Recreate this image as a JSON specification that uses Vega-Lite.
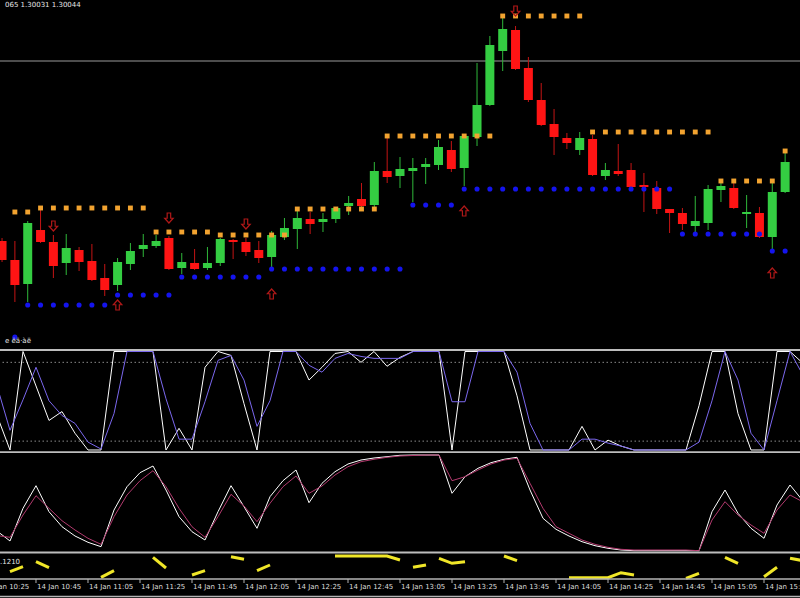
{
  "$schema": "https://vega.github.io/schema/vega-lite/v6.json",
  "background": "#000000",
  "padding": 0,
  "spacing": 0,
  "bounds": "flush",
  "config": {"view": {"stroke": null}},
  "datasets": {
    "bars": [
      {"t":"2013-01-14T10:30","o":1.29959,"h":1.29962,"l":1.29938,"c":1.29940,"K":35,"D":65,"W":22,"P":17.4},
      {"t":"2013-01-14T10:35","o":1.29940,"h":1.29959,"l":1.29898,"c":1.29915,"K":0,"D":20,"W":12,"P":15.7},
      {"t":"2013-01-14T10:40","o":1.29916,"h":1.29979,"l":1.29898,"c":1.29977,"K":100,"D":51,"W":44.7,"P":38},
      {"t":"2013-01-14T10:45","o":1.29970,"h":1.29993,"l":1.29957,"c":1.29958,"K":65,"D":84,"W":67.3,"P":57.3},
      {"t":"2013-01-14T10:50","o":1.29958,"h":1.29965,"l":1.29922,"c":1.29934,"K":30,"D":50,"W":41.3,"P":44.7},
      {"t":"2013-01-14T10:55","o":1.29937,"h":1.29966,"l":1.29925,"c":1.29952,"K":39,"D":35,"W":26.3,"P":32.3},
      {"t":"2013-01-14T11:00","o":1.29950,"h":1.29953,"l":1.29929,"c":1.29938,"K":17,"D":27,"W":17,"P":23},
      {"t":"2013-01-14T11:05","o":1.29939,"h":1.29956,"l":1.29919,"c":1.29920,"K":0,"D":8,"W":10.7,"P":14.7},
      {"t":"2013-01-14T11:10","o":1.29922,"h":1.29936,"l":1.29904,"c":1.29910,"K":0,"D":1,"W":6.3,"P":8.7},
      {"t":"2013-01-14T11:15","o":1.29915,"h":1.29942,"l":1.29909,"c":1.29938,"K":100,"D":37,"W":43,"P":36.3},
      {"t":"2013-01-14T11:20","o":1.29936,"h":1.29957,"l":1.29930,"c":1.29949,"K":100,"D":100,"W":66.3,"P":58},
      {"t":"2013-01-14T11:25","o":1.29951,"h":1.29966,"l":1.29943,"c":1.29955,"K":100,"D":100,"W":80.3,"P":72.3},
      {"t":"2013-01-14T11:30","o":1.29954,"h":1.29965,"l":1.29952,"c":1.29959,"K":100,"D":100,"W":87,"P":82.3},
      {"t":"2013-01-14T11:35","o":1.29962,"h":1.29964,"l":1.29930,"c":1.29931,"K":0,"D":52,"W":63,"P":66.3},
      {"t":"2013-01-14T11:40","o":1.29932,"h":1.29947,"l":1.29926,"c":1.29938,"K":22,"D":11,"W":36.3,"P":44.7},
      {"t":"2013-01-14T11:45","o":1.29937,"h":1.29951,"l":1.29930,"c":1.29931,"K":0,"D":11,"W":21.3,"P":26.3},
      {"t":"2013-01-14T11:50","o":1.29932,"h":1.29953,"l":1.29930,"c":1.29937,"K":84,"D":49,"W":13,"P":15.7},
      {"t":"2013-01-14T11:55","o":1.29937,"h":1.29962,"l":1.29934,"c":1.29961,"K":100,"D":91,"W":41.3,"P":36.3},
      {"t":"2013-01-14T12:00","o":1.29960,"h":1.29961,"l":1.29941,"c":1.29958,"K":96,"D":96,"W":67.3,"P":58.7},
      {"t":"2013-01-14T12:05","o":1.29958,"h":1.29962,"l":1.29944,"c":1.29948,"K":47,"D":71,"W":46.3,"P":47},
      {"t":"2013-01-14T12:10","o":1.29950,"h":1.29959,"l":1.29937,"c":1.29942,"K":0,"D":24,"W":24.7,"P":31.3},
      {"t":"2013-01-14T12:15","o":1.29943,"h":1.29969,"l":1.29933,"c":1.29965,"K":100,"D":50,"W":56.3,"P":49.7},
      {"t":"2013-01-14T12:20","o":1.29963,"h":1.29982,"l":1.29960,"c":1.29972,"K":100,"D":100,"W":72.3,"P":66.3},
      {"t":"2013-01-14T12:25","o":1.29971,"h":1.29992,"l":1.29951,"c":1.29982,"K":100,"D":100,"W":83,"P":77},
      {"t":"2013-01-14T12:30","o":1.29981,"h":1.29988,"l":1.29966,"c":1.29976,"K":71,"D":86,"W":50.3,"P":59.7},
      {"t":"2013-01-14T12:35","o":1.29978,"h":1.29987,"l":1.29968,"c":1.29981,"K":84,"D":79,"W":69.7,"P":67},
      {"t":"2013-01-14T12:40","o":1.29981,"h":1.29993,"l":1.29977,"c":1.29992,"K":98,"D":93,"W":81.3,"P":78},
      {"t":"2013-01-14T12:45","o":1.29994,"h":1.30004,"l":1.29985,"c":1.29997,"K":100,"D":98,"W":89,"P":86.3},
      {"t":"2013-01-14T12:50","o":1.30001,"h":1.30017,"l":1.29993,"c":1.29994,"K":89,"D":95,"W":93,"P":91.3},
      {"t":"2013-01-14T12:55","o":1.29995,"h":1.30038,"l":1.29993,"c":1.30029,"K":100,"D":93,"W":95,"P":93.7},
      {"t":"2013-01-14T13:00","o":1.30029,"h":1.30064,"l":1.30017,"c":1.30023,"K":85,"D":93,"W":96.3,"P":95.7},
      {"t":"2013-01-14T13:05","o":1.30024,"h":1.30043,"l":1.30012,"c":1.30031,"K":94,"D":93,"W":97.7,"P":97},
      {"t":"2013-01-14T13:10","o":1.30029,"h":1.30042,"l":1.29998,"c":1.30032,"K":100,"D":100,"W":98,"P":97.5},
      {"t":"2013-01-14T13:15","o":1.30033,"h":1.30042,"l":1.30016,"c":1.30036,"K":100,"D":100,"W":98,"P":98},
      {"t":"2013-01-14T13:20","o":1.30035,"h":1.30060,"l":1.30030,"c":1.30053,"K":100,"D":100,"W":98,"P":98},
      {"t":"2013-01-14T13:25","o":1.30050,"h":1.30059,"l":1.30028,"c":1.30031,"K":0,"D":49,"W":59.7,"P":72.3},
      {"t":"2013-01-14T13:30","o":1.30032,"h":1.30065,"l":1.30014,"c":1.30064,"K":100,"D":49,"W":76.3,"P":76.3},
      {"t":"2013-01-14T13:35","o":1.30063,"h":1.30137,"l":1.30054,"c":1.30095,"K":100,"D":100,"W":84.7,"P":83},
      {"t":"2013-01-14T13:40","o":1.30095,"h":1.30164,"l":1.30094,"c":1.30155,"K":100,"D":100,"W":90.3,"P":89},
      {"t":"2013-01-14T13:45","o":1.30149,"h":1.30183,"l":1.30129,"c":1.30171,"K":100,"D":100,"W":93.7,"P":93},
      {"t":"2013-01-14T13:50","o":1.30170,"h":1.30174,"l":1.30130,"c":1.30131,"K":55,"D":79,"W":95.7,"P":94.7},
      {"t":"2013-01-14T13:55","o":1.30132,"h":1.30143,"l":1.30098,"c":1.30100,"K":0,"D":27,"W":63,"P":69.7},
      {"t":"2013-01-14T14:00","o":1.30100,"h":1.30117,"l":1.30074,"c":1.30075,"K":0,"D":0,"W":34.7,"P":44.7},
      {"t":"2013-01-14T14:05","o":1.30076,"h":1.30091,"l":1.30045,"c":1.30063,"K":0,"D":0,"W":23.7,"P":26.3},
      {"t":"2013-01-14T14:10","o":1.30062,"h":1.30067,"l":1.30051,"c":1.30057,"K":0,"D":0,"W":17,"P":19.7},
      {"t":"2013-01-14T14:15","o":1.30050,"h":1.30068,"l":1.30045,"c":1.30062,"K":24,"D":11,"W":11.3,"P":13},
      {"t":"2013-01-14T14:20","o":1.30061,"h":1.30065,"l":1.30024,"c":1.30025,"K":0,"D":11,"W":7.3,"P":8.7},
      {"t":"2013-01-14T14:25","o":1.30024,"h":1.30037,"l":1.30020,"c":1.30030,"K":10,"D":7,"W":4.7,"P":5.7},
      {"t":"2013-01-14T14:30","o":1.30029,"h":1.30056,"l":1.30024,"c":1.30026,"K":4,"D":4,"W":3,"P":3.7},
      {"t":"2013-01-14T14:35","o":1.30030,"h":1.30037,"l":1.30012,"c":1.30013,"K":0,"D":0,"W":2.3,"P":3},
      {"t":"2013-01-14T14:40","o":1.30015,"h":1.30027,"l":1.29988,"c":1.30013,"K":0,"D":0,"W":2.3,"P":3},
      {"t":"2013-01-14T14:45","o":1.30012,"h":1.30019,"l":1.29986,"c":1.29991,"K":0,"D":0,"W":2.3,"P":3},
      {"t":"2013-01-14T14:50","o":1.29991,"h":1.29991,"l":1.29967,"c":1.29987,"K":0,"D":0,"W":2.3,"P":3},
      {"t":"2013-01-14T14:55","o":1.29987,"h":1.29992,"l":1.29970,"c":1.29976,"K":0,"D":0,"W":2.3,"P":3},
      {"t":"2013-01-14T15:00","o":1.29974,"h":1.30004,"l":1.29967,"c":1.29979,"K":45,"D":8,"W":2.3,"P":2.3},
      {"t":"2013-01-14T15:05","o":1.29977,"h":1.30015,"l":1.29970,"c":1.30011,"K":100,"D":50,"W":41.3,"P":33},
      {"t":"2013-01-14T15:10","o":1.30010,"h":1.30020,"l":1.29998,"c":1.30014,"K":100,"D":100,"W":63,"P":51.3},
      {"t":"2013-01-14T15:15","o":1.30012,"h":1.30018,"l":1.29991,"c":1.29992,"K":37,"D":71,"W":39.7,"P":38},
      {"t":"2013-01-14T15:20","o":1.29986,"h":1.30005,"l":1.29972,"c":1.29988,"K":0,"D":17,"W":24.7,"P":28},
      {"t":"2013-01-14T15:25","o":1.29987,"h":1.29993,"l":1.29962,"c":1.29963,"K":0,"D":0,"W":14.7,"P":19.7},
      {"t":"2013-01-14T15:30","o":1.29963,"h":1.30017,"l":1.29950,"c":1.30008,"K":100,"D":50,"W":48,"P":43},
      {"t":"2013-01-14T15:35","o":1.30008,"h":1.30048,"l":1.30007,"c":1.30038,"K":100,"D":100,"W":68,"P":58},
      {"t":"2013-01-14T15:40","K":88,"D":76,"W":52,"P":51}
    ],
    "orange": [
      {"t":"2013-01-14T10:35","p":1.29988},{"t":"2013-01-14T10:40","p":1.29988},
      {"t":"2013-01-14T10:45","p":1.29992},{"t":"2013-01-14T10:50","p":1.29992},{"t":"2013-01-14T10:55","p":1.29992},{"t":"2013-01-14T11:00","p":1.29992},{"t":"2013-01-14T11:05","p":1.29992},{"t":"2013-01-14T11:10","p":1.29992},{"t":"2013-01-14T11:15","p":1.29992},{"t":"2013-01-14T11:20","p":1.29992},{"t":"2013-01-14T11:25","p":1.29992},
      {"t":"2013-01-14T11:30","p":1.29968},{"t":"2013-01-14T11:35","p":1.29968},{"t":"2013-01-14T11:40","p":1.29968},{"t":"2013-01-14T11:45","p":1.29968},{"t":"2013-01-14T11:50","p":1.29968},
      {"t":"2013-01-14T11:55","p":1.29965},{"t":"2013-01-14T12:00","p":1.29965},{"t":"2013-01-14T12:05","p":1.29965},{"t":"2013-01-14T12:10","p":1.29965},{"t":"2013-01-14T12:15","p":1.29965},{"t":"2013-01-14T12:20","p":1.29965},
      {"t":"2013-01-14T12:25","p":1.29991},{"t":"2013-01-14T12:30","p":1.29991},{"t":"2013-01-14T12:35","p":1.29991},{"t":"2013-01-14T12:40","p":1.29991},{"t":"2013-01-14T12:45","p":1.29991},{"t":"2013-01-14T12:50","p":1.29991},{"t":"2013-01-14T12:55","p":1.29991},
      {"t":"2013-01-14T13:00","p":1.30064},{"t":"2013-01-14T13:05","p":1.30064},{"t":"2013-01-14T13:10","p":1.30064},{"t":"2013-01-14T13:15","p":1.30064},{"t":"2013-01-14T13:20","p":1.30064},{"t":"2013-01-14T13:25","p":1.30064},{"t":"2013-01-14T13:30","p":1.30064},{"t":"2013-01-14T13:35","p":1.30064},{"t":"2013-01-14T13:40","p":1.30064},
      {"t":"2013-01-14T13:45","p":1.30184},{"t":"2013-01-14T13:50","p":1.30184},{"t":"2013-01-14T13:55","p":1.30184},{"t":"2013-01-14T14:00","p":1.30184},{"t":"2013-01-14T14:05","p":1.30184},{"t":"2013-01-14T14:10","p":1.30184},{"t":"2013-01-14T14:15","p":1.30184},
      {"t":"2013-01-14T14:20","p":1.30068},{"t":"2013-01-14T14:25","p":1.30068},{"t":"2013-01-14T14:30","p":1.30068},{"t":"2013-01-14T14:35","p":1.30068},{"t":"2013-01-14T14:40","p":1.30068},{"t":"2013-01-14T14:45","p":1.30068},{"t":"2013-01-14T14:50","p":1.30068},{"t":"2013-01-14T14:55","p":1.30068},{"t":"2013-01-14T15:00","p":1.30068},{"t":"2013-01-14T15:05","p":1.30068},
      {"t":"2013-01-14T15:10","p":1.30019},{"t":"2013-01-14T15:15","p":1.30019},{"t":"2013-01-14T15:20","p":1.30019},{"t":"2013-01-14T15:25","p":1.30019},{"t":"2013-01-14T15:30","p":1.30019},
      {"t":"2013-01-14T15:35","p":1.30049}
    ],
    "blue": [
      {"t":"2013-01-14T10:35","p":1.29863},
      {"t":"2013-01-14T10:40","p":1.29895},{"t":"2013-01-14T10:45","p":1.29895},{"t":"2013-01-14T10:50","p":1.29895},{"t":"2013-01-14T10:55","p":1.29895},{"t":"2013-01-14T11:00","p":1.29895},{"t":"2013-01-14T11:05","p":1.29895},{"t":"2013-01-14T11:10","p":1.29895},
      {"t":"2013-01-14T11:15","p":1.29905},{"t":"2013-01-14T11:20","p":1.29905},{"t":"2013-01-14T11:25","p":1.29905},{"t":"2013-01-14T11:30","p":1.29905},{"t":"2013-01-14T11:35","p":1.29905},
      {"t":"2013-01-14T11:40","p":1.29923},{"t":"2013-01-14T11:45","p":1.29923},{"t":"2013-01-14T11:50","p":1.29923},{"t":"2013-01-14T11:55","p":1.29923},{"t":"2013-01-14T12:00","p":1.29923},{"t":"2013-01-14T12:05","p":1.29923},{"t":"2013-01-14T12:10","p":1.29923},
      {"t":"2013-01-14T12:15","p":1.29931},{"t":"2013-01-14T12:20","p":1.29931},{"t":"2013-01-14T12:25","p":1.29931},{"t":"2013-01-14T12:30","p":1.29931},{"t":"2013-01-14T12:35","p":1.29931},{"t":"2013-01-14T12:40","p":1.29931},{"t":"2013-01-14T12:45","p":1.29931},{"t":"2013-01-14T12:50","p":1.29931},{"t":"2013-01-14T12:55","p":1.29931},{"t":"2013-01-14T13:00","p":1.29931},{"t":"2013-01-14T13:05","p":1.29931},
      {"t":"2013-01-14T13:10","p":1.29995},{"t":"2013-01-14T13:15","p":1.29995},{"t":"2013-01-14T13:20","p":1.29995},{"t":"2013-01-14T13:25","p":1.29995},
      {"t":"2013-01-14T13:30","p":1.30011},{"t":"2013-01-14T13:35","p":1.30011},{"t":"2013-01-14T13:40","p":1.30011},{"t":"2013-01-14T13:45","p":1.30011},{"t":"2013-01-14T13:50","p":1.30011},{"t":"2013-01-14T13:55","p":1.30011},{"t":"2013-01-14T14:00","p":1.30011},{"t":"2013-01-14T14:05","p":1.30011},{"t":"2013-01-14T14:10","p":1.30011},{"t":"2013-01-14T14:15","p":1.30011},{"t":"2013-01-14T14:20","p":1.30011},{"t":"2013-01-14T14:25","p":1.30011},{"t":"2013-01-14T14:30","p":1.30011},{"t":"2013-01-14T14:35","p":1.30011},{"t":"2013-01-14T14:40","p":1.30011},{"t":"2013-01-14T14:45","p":1.30011},{"t":"2013-01-14T14:50","p":1.30011},
      {"t":"2013-01-14T14:55","p":1.29966},{"t":"2013-01-14T15:00","p":1.29966},{"t":"2013-01-14T15:05","p":1.29966},{"t":"2013-01-14T15:10","p":1.29966},{"t":"2013-01-14T15:15","p":1.29966},{"t":"2013-01-14T15:20","p":1.29966},{"t":"2013-01-14T15:25","p":1.29966},
      {"t":"2013-01-14T15:30","p":1.29949},{"t":"2013-01-14T15:35","p":1.29949}
    ],
    "arrows": [
      {"t":"2013-01-14T10:50","p":1.29974,"dir":"down"},
      {"t":"2013-01-14T11:35","p":1.29982,"dir":"down"},
      {"t":"2013-01-14T12:05","p":1.29976,"dir":"down"},
      {"t":"2013-01-14T13:50","p":1.30189,"dir":"down"},
      {"t":"2013-01-14T11:15","p":1.29895,"dir":"up"},
      {"t":"2013-01-14T12:15","p":1.29906,"dir":"up"},
      {"t":"2013-01-14T13:30","p":1.29989,"dir":"up"},
      {"t":"2013-01-14T15:30","p":1.29927,"dir":"up"}
    ],
    "yellow": [
      {"t":"2013-01-14T10:35","seg":1,"v":26.3},{"t":"2013-01-14T10:40","seg":1,"v":31.3},
      {"t":"2013-01-14T10:45","seg":2,"v":36.3},{"t":"2013-01-14T10:50","seg":2,"v":30.3},
      {"t":"2013-01-14T11:10","seg":3,"v":20.7},{"t":"2013-01-14T11:15","seg":3,"v":27.3},
      {"t":"2013-01-14T11:30","seg":4,"v":40.7},{"t":"2013-01-14T11:35","seg":4,"v":30},
      {"t":"2013-01-14T11:45","seg":5,"v":23},{"t":"2013-01-14T11:50","seg":5,"v":27.3},
      {"t":"2013-01-14T12:00","seg":6,"v":41.3},{"t":"2013-01-14T12:05","seg":6,"v":38.7},
      {"t":"2013-01-14T12:10","seg":7,"v":27.3},{"t":"2013-01-14T12:15","seg":7,"v":33},
      {"t":"2013-01-14T12:40","seg":8,"v":42},{"t":"2013-01-14T12:45","seg":8,"v":42},{"t":"2013-01-14T12:50","seg":8,"v":42},{"t":"2013-01-14T12:55","seg":8,"v":42},{"t":"2013-01-14T13:00","seg":8,"v":42},{"t":"2013-01-14T13:05","seg":8,"v":38},
      {"t":"2013-01-14T13:10","seg":9,"v":30.7},{"t":"2013-01-14T13:15","seg":9,"v":33},
      {"t":"2013-01-14T13:20","seg":10,"v":39.7},{"t":"2013-01-14T13:25","seg":10,"v":34.7},{"t":"2013-01-14T13:30","seg":10,"v":36.3},
      {"t":"2013-01-14T13:45","seg":11,"v":42},{"t":"2013-01-14T13:50","seg":11,"v":37.3},
      {"t":"2013-01-14T14:10","seg":12,"v":20.3},{"t":"2013-01-14T14:15","seg":12,"v":20.3},{"t":"2013-01-14T14:20","seg":12,"v":20.3},{"t":"2013-01-14T14:25","seg":12,"v":20.3},{"t":"2013-01-14T14:30","seg":12,"v":25.3},{"t":"2013-01-14T14:35","seg":12,"v":23},
      {"t":"2013-01-14T14:55","seg":13,"v":19.7},{"t":"2013-01-14T15:00","seg":13,"v":24.7},
      {"t":"2013-01-14T15:10","seg":14,"v":40.7},{"t":"2013-01-14T15:15","seg":14,"v":34.7},
      {"t":"2013-01-14T15:25","seg":15,"v":21.3},{"t":"2013-01-14T15:30","seg":15,"v":30.7},
      {"t":"2013-01-14T15:35","seg":16,"v":39.7},{"t":"2013-01-14T15:40","seg":16,"v":37.3}
    ],
    "ticks": [
      {"t":"2013-01-14T10:25"},{"t":"2013-01-14T10:45"},{"t":"2013-01-14T11:05"},{"t":"2013-01-14T11:25"},
      {"t":"2013-01-14T11:45"},{"t":"2013-01-14T12:05"},{"t":"2013-01-14T12:25"},{"t":"2013-01-14T12:45"},
      {"t":"2013-01-14T13:05"},{"t":"2013-01-14T13:25"},{"t":"2013-01-14T13:45"},{"t":"2013-01-14T14:05"},
      {"t":"2013-01-14T14:25"},{"t":"2013-01-14T14:45"},{"t":"2013-01-14T15:05"},{"t":"2013-01-14T15:25"}
    ]
  },
  "vconcat": [
    {
      "width": 800,
      "height": 351,
      "layer": [
        {
          "data": {"values": [{"lvl": 1.30139}]},
          "mark": {"type": "rule", "color": "#9a9a9a", "strokeWidth": 1, "clip": true},
          "encoding": {
            "y": {"field": "lvl", "type": "quantitative", "scale": {"domain": [1.29849, 1.302], "nice": false, "zero": false}, "axis": null}
          }
        },
        {
          "data": {"name": "bars"},
          "transform": [{"filter": "isValid(datum.o)"}],
          "mark": {"type": "rule", "strokeWidth": 1, "clip": true},
          "encoding": {
            "x": {"field": "t", "type": "temporal", "scale": {"domain": [{"year":2013,"month":1,"date":14,"hours":10,"minutes":31,"seconds":9,"milliseconds":231},{"year":2013,"month":1,"date":14,"hours":15,"minutes":38,"seconds":50,"milliseconds":769}]}, "axis": null},
            "y": {"field": "l", "type": "quantitative", "scale": {"domain": [1.29849, 1.302], "nice": false, "zero": false}, "axis": null},
            "y2": {"field": "h"},
            "color": {"condition": {"test": "datum.c >= datum.o", "value": "#2fb83a"}, "value": "#c41414"}
          }
        },
        {
          "data": {"name": "bars"},
          "transform": [{"filter": "isValid(datum.o)"}],
          "mark": {"type": "bar", "width": 9, "clip": true},
          "encoding": {
            "x": {"field": "t", "type": "temporal", "scale": {"domain": [{"year":2013,"month":1,"date":14,"hours":10,"minutes":31,"seconds":9,"milliseconds":231},{"year":2013,"month":1,"date":14,"hours":15,"minutes":38,"seconds":50,"milliseconds":769}]}, "axis": null},
            "y": {"field": "o", "type": "quantitative", "scale": {"domain": [1.29849, 1.302], "nice": false, "zero": false}, "axis": null},
            "y2": {"field": "c"},
            "color": {"condition": {"test": "datum.c >= datum.o", "value": "#34cd42"}, "value": "#ff1414"}
          }
        },
        {
          "data": {"name": "orange"},
          "mark": {"type": "point", "shape": "square", "filled": true, "size": 24, "color": "#f2a330", "opacity": 1, "clip": true},
          "encoding": {
            "x": {"field": "t", "type": "temporal", "scale": {"domain": [{"year":2013,"month":1,"date":14,"hours":10,"minutes":31,"seconds":9,"milliseconds":231},{"year":2013,"month":1,"date":14,"hours":15,"minutes":38,"seconds":50,"milliseconds":769}]}, "axis": null},
            "y": {"field": "p", "type": "quantitative", "scale": {"domain": [1.29849, 1.302], "nice": false, "zero": false}, "axis": null}
          }
        },
        {
          "data": {"name": "blue"},
          "mark": {"type": "point", "shape": "circle", "filled": true, "size": 26, "color": "#1414ee", "opacity": 1, "clip": true},
          "encoding": {
            "x": {"field": "t", "type": "temporal", "scale": {"domain": [{"year":2013,"month":1,"date":14,"hours":10,"minutes":31,"seconds":9,"milliseconds":231},{"year":2013,"month":1,"date":14,"hours":15,"minutes":38,"seconds":50,"milliseconds":769}]}, "axis": null},
            "y": {"field": "p", "type": "quantitative", "scale": {"domain": [1.29849, 1.302], "nice": false, "zero": false}, "axis": null}
          }
        },
        {
          "data": {"name": "arrows"},
          "mark": {"type": "point", "filled": false, "size": 100, "strokeWidth": 1.2, "color": "#b01818", "opacity": 1, "clip": true},
          "encoding": {
            "x": {"field": "t", "type": "temporal", "scale": {"domain": [{"year":2013,"month":1,"date":14,"hours":10,"minutes":31,"seconds":9,"milliseconds":231},{"year":2013,"month":1,"date":14,"hours":15,"minutes":38,"seconds":50,"milliseconds":769}]}, "axis": null},
            "y": {"field": "p", "type": "quantitative", "scale": {"domain": [1.29849, 1.302], "nice": false, "zero": false}, "axis": null},
            "shape": {"field": "dir", "type": "nominal", "scale": {"domain": ["down", "up"], "range": ["M-0.35,-1L0.35,-1L0.35,0.05L0.85,0.05L0,1L-0.85,0.05L-0.35,0.05Z", "M-0.35,1L0.35,1L0.35,-0.05L0.85,-0.05L0,-1L-0.85,-0.05L-0.35,-0.05Z"]}, "legend": null}
          }
        },
        {
          "data": {"values": [{"s": "065 1.30031 1.30044", "p": 1.30195}, {"s": "e ëä·àë", "p": 1.298595}]},
          "mark": {"type": "text", "align": "left", "baseline": "middle", "font": "DejaVu Sans", "fontSize": 7, "color": "#e6e6e6", "clip": true},
          "encoding": {
            "x": {"datum": {"year":2013,"month":1,"date":14,"hours":10,"minutes":31,"seconds":9,"milliseconds":231}, "type": "temporal", "scale": {"domain": [{"year":2013,"month":1,"date":14,"hours":10,"minutes":31,"seconds":9,"milliseconds":231},{"year":2013,"month":1,"date":14,"hours":15,"minutes":38,"seconds":50,"milliseconds":769}]}, "axis": null},
            "y": {"field": "p", "type": "quantitative", "scale": {"domain": [1.29849, 1.302], "nice": false, "zero": false}, "axis": null},
            "text": {"field": "s"}
          }
        },
        {
          "data": {"values": [{"sep": 1.2985}]},
          "mark": {"type": "rule", "color": "#bdbdbd", "strokeWidth": 2, "clip": true},
          "encoding": {
            "y": {"field": "sep", "type": "quantitative", "scale": {"domain": [1.29849, 1.302], "nice": false, "zero": false}, "axis": null}
          }
        }
      ]
    },
    {
      "width": 800,
      "height": 102,
      "layer": [
        {
          "data": {"values": [{"lv": 89}, {"lv": 9}]},
          "mark": {"type": "rule", "color": "#8a8a8a", "strokeWidth": 1, "strokeDash": [1.5, 2.5], "clip": true},
          "encoding": {
            "y": {"field": "lv", "type": "quantitative", "scale": {"domain": [-3.046, 100.5], "nice": false, "zero": false}, "axis": null}
          }
        },
        {
          "data": {"name": "bars"},
          "mark": {"type": "line", "color": "#ffffff", "strokeWidth": 1, "clip": true},
          "encoding": {
            "x": {"field": "t", "type": "temporal", "scale": {"domain": [{"year":2013,"month":1,"date":14,"hours":10,"minutes":31,"seconds":9,"milliseconds":231},{"year":2013,"month":1,"date":14,"hours":15,"minutes":38,"seconds":50,"milliseconds":769}]}, "axis": null},
            "y": {"field": "K", "type": "quantitative", "scale": {"domain": [-3.046, 100.5], "nice": false, "zero": false}, "axis": null}
          }
        },
        {
          "data": {"name": "bars"},
          "mark": {"type": "line", "color": "#7b68ee", "strokeWidth": 1, "clip": true},
          "encoding": {
            "x": {"field": "t", "type": "temporal", "scale": {"domain": [{"year":2013,"month":1,"date":14,"hours":10,"minutes":31,"seconds":9,"milliseconds":231},{"year":2013,"month":1,"date":14,"hours":15,"minutes":38,"seconds":50,"milliseconds":769}]}, "axis": null},
            "y": {"field": "D", "type": "quantitative", "scale": {"domain": [-3.046, 100.5], "nice": false, "zero": false}, "axis": null}
          }
        },
        {
          "data": {"values": [{"sep": -2.335}]},
          "mark": {"type": "rule", "color": "#bdbdbd", "strokeWidth": 2, "clip": true},
          "encoding": {
            "y": {"field": "sep", "type": "quantitative", "scale": {"domain": [-3.046, 100.5], "nice": false, "zero": false}, "axis": null}
          }
        }
      ]
    },
    {
      "width": 800,
      "height": 101,
      "layer": [
        {
          "data": {"name": "bars"},
          "mark": {"type": "line", "color": "#ffffff", "strokeWidth": 1, "clip": true},
          "encoding": {
            "x": {"field": "t", "type": "temporal", "scale": {"domain": [{"year":2013,"month":1,"date":14,"hours":10,"minutes":31,"seconds":9,"milliseconds":231},{"year":2013,"month":1,"date":14,"hours":15,"minutes":38,"seconds":50,"milliseconds":769}]}, "axis": null},
            "y": {"field": "W", "type": "quantitative", "scale": {"domain": [-1, 100], "nice": false, "zero": false}, "axis": null}
          }
        },
        {
          "data": {"name": "bars"},
          "mark": {"type": "line", "color": "#b23a6e", "strokeWidth": 1, "clip": true},
          "encoding": {
            "x": {"field": "t", "type": "temporal", "scale": {"domain": [{"year":2013,"month":1,"date":14,"hours":10,"minutes":31,"seconds":9,"milliseconds":231},{"year":2013,"month":1,"date":14,"hours":15,"minutes":38,"seconds":50,"milliseconds":769}]}, "axis": null},
            "y": {"field": "P", "type": "quantitative", "scale": {"domain": [-1, 100], "nice": false, "zero": false}, "axis": null}
          }
        },
        {
          "data": {"values": [{"sep": 0.5}]},
          "mark": {"type": "rule", "color": "#bdbdbd", "strokeWidth": 2, "clip": true},
          "encoding": {
            "y": {"field": "sep", "type": "quantitative", "scale": {"domain": [-1, 100], "nice": false, "zero": false}, "axis": null}
          }
        }
      ]
    },
    {
      "width": 800,
      "height": 44,
      "layer": [
        {
          "data": {"name": "yellow"},
          "mark": {"type": "line", "color": "#f0e628", "strokeWidth": 3, "clip": true},
          "encoding": {
            "x": {"field": "t", "type": "temporal", "scale": {"domain": [{"year":2013,"month":1,"date":14,"hours":10,"minutes":31,"seconds":9,"milliseconds":231},{"year":2013,"month":1,"date":14,"hours":15,"minutes":38,"seconds":50,"milliseconds":769}]}, "axis": null},
            "y": {"field": "v", "type": "quantitative", "scale": {"domain": [0, 44], "nice": false, "zero": false}, "axis": null},
            "detail": {"field": "seg", "type": "nominal"}
          }
        },
        {
          "data": {"values": [{"s": ".1210", "v": 36.5}]},
          "mark": {"type": "text", "align": "left", "baseline": "middle", "font": "DejaVu Sans", "fontSize": 7, "color": "#e6e6e6", "clip": true},
          "encoding": {
            "x": {"datum": {"year":2013,"month":1,"date":14,"hours":10,"minutes":31,"seconds":9,"milliseconds":231}, "type": "temporal", "scale": {"domain": [{"year":2013,"month":1,"date":14,"hours":10,"minutes":31,"seconds":9,"milliseconds":231},{"year":2013,"month":1,"date":14,"hours":15,"minutes":38,"seconds":50,"milliseconds":769}]}, "axis": null},
            "y": {"field": "v", "type": "quantitative", "scale": {"domain": [0, 44], "nice": false, "zero": false}, "axis": null},
            "text": {"field": "s"}
          }
        },
        {
          "data": {"values": [{"lv": 19, "w": "a"}, {"lv": 1.5, "w": "b"}]},
          "mark": {"type": "rule", "color": "#b4b4b4", "strokeWidth": 1.5, "clip": true},
          "encoding": {
            "y": {"field": "lv", "type": "quantitative", "scale": {"domain": [0, 44], "nice": false, "zero": false}, "axis": null}
          }
        },
        {
          "data": {"name": "ticks"},
          "mark": {"type": "rule", "color": "#b4b4b4", "strokeWidth": 1, "clip": true},
          "encoding": {
            "x": {"field": "t", "type": "temporal", "scale": {"domain": [{"year":2013,"month":1,"date":14,"hours":10,"minutes":31,"seconds":9,"milliseconds":231},{"year":2013,"month":1,"date":14,"hours":15,"minutes":38,"seconds":50,"milliseconds":769}]}, "axis": null},
            "y": {"datum": 19, "type": "quantitative", "scale": {"domain": [0, 44], "nice": false, "zero": false}, "axis": null},
            "y2": {"datum": 15}
          }
        },
        {
          "data": {"name": "ticks"},
          "mark": {"type": "text", "align": "left", "baseline": "top", "dx": 1, "font": "DejaVu Sans", "fontSize": 7, "color": "#dcdcdc", "clip": true},
          "encoding": {
            "x": {"field": "t", "type": "temporal", "scale": {"domain": [{"year":2013,"month":1,"date":14,"hours":10,"minutes":31,"seconds":9,"milliseconds":231},{"year":2013,"month":1,"date":14,"hours":15,"minutes":38,"seconds":50,"milliseconds":769}]}, "axis": null},
            "y": {"datum": 15, "type": "quantitative", "scale": {"domain": [0, 44], "nice": false, "zero": false}, "axis": null},
            "text": {"field": "t", "type": "temporal", "format": "%d %b %H:%M"}
          }
        }
      ]
    }
  ]
}
